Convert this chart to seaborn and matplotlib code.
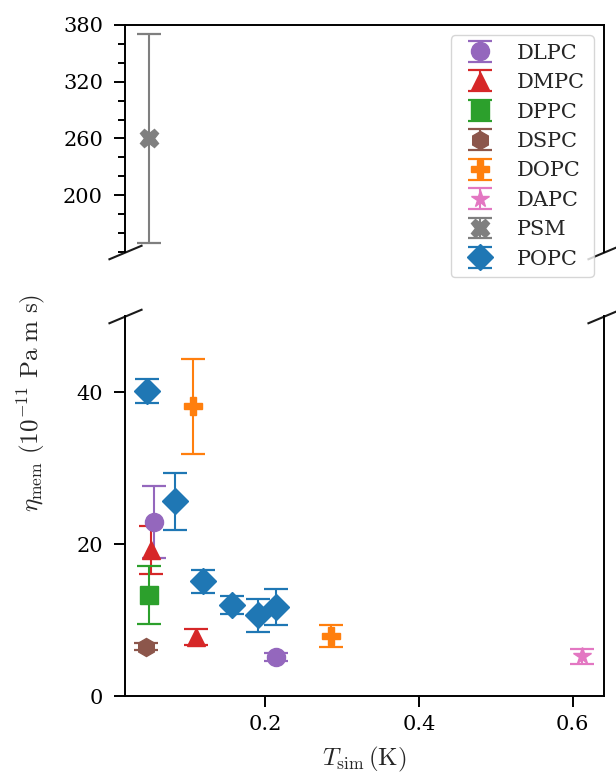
import matplotlib
matplotlib.use("Agg")
import matplotlib.pyplot as plt
from matplotlib.ticker import MultipleLocator, FixedLocator
import seaborn as sns

# Membrane viscosity vs. simulation temperature for each lipid
lipids = ["DLPC", "DMPC", "DPPC", "DSPC", "DOPC", "DAPC", "PSM", "POPC"]
markers = ["o", "^", "s", "h", "P", "*", "X", "D"]

tsim_dlpc = [0.055, 0.214]
eta_dlpc = [22.9, 5.1]
err_dlpc = [4.7, 0.5]

tsim_dmpc = [0.051, 0.109]
eta_dmpc = [19.2, 7.8]
err_dmpc = [3.15, 1.05]

tsim_dppc = [0.048]
eta_dppc = [13.3]
err_dppc = [3.85]

tsim_dspc = [0.045]
eta_dspc = [6.5]
err_dspc = [0.5]

tsim_dopc = [0.106, 0.286]
eta_dopc = [38.1, 7.9]
err_dopc = [6.2, 1.45]

tsim_dapc = [0.612]
eta_dapc = [5.2]
err_dapc = [1.05]

tsim_psm = [0.048]
eta_psm = [260.0]
err_psm = [110.0]

tsim_popc = [0.046, 0.082, 0.119, 0.156, 0.190, 0.214]
eta_popc = [40.1, 25.6, 15.1, 12.0, 10.6, 11.7]
err_popc = [1.6, 3.8, 1.5, 1.2, 2.2, 2.4]

top_ticks = [200, 260, 320, 380]
bottom_ticks = [0, 20, 40]
x_ticks = [0.2, 0.4, 0.6]

series = [
    (tsim_dlpc, eta_dlpc, err_dlpc),
    (tsim_dmpc, eta_dmpc, err_dmpc),
    (tsim_dppc, eta_dppc, err_dppc),
    (tsim_dspc, eta_dspc, err_dspc),
    (tsim_dopc, eta_dopc, err_dopc),
    (tsim_dapc, eta_dapc, err_dapc),
    (tsim_psm, eta_psm, err_psm),
    (tsim_popc, eta_popc, err_popc),
]

sns.set_theme(style="ticks")
tab = sns.color_palette("tab10")
colors = [tab[4], tab[3], tab[2], tab[5], tab[1], tab[6], tab[7], tab[0]]

plt.rcParams.update({
    "font.family": ["DejaVu Serif"],
    "mathtext.fontset": "cm",
    "axes.linewidth": 1.4,
    "xtick.major.size": 7.8,
    "ytick.major.size": 7.8,
    "ytick.minor.size": 5.0,
    "xtick.major.width": 1.4,
    "ytick.major.width": 1.4,
    "ytick.minor.width": 1.4,
    "xtick.major.pad": 6,
    "ytick.major.pad": 8,
    "xtick.labelsize": 15,
    "ytick.labelsize": 15,
    "axes.edgecolor": "black",
    "xtick.color": "black",
    "ytick.color": "black",
})

fig = plt.figure(figsize=(6.16, 7.83), dpi=100)
ax_top = fig.add_axes([0.2029, 0.6782, 0.7776, 0.2899])
ax_bot = fig.add_axes([0.2029, 0.1111, 0.7776, 0.4853])

for ax in (ax_top, ax_bot):
    for name, mk, col, (t, eta, err) in zip(lipids, markers, colors, series):
        ax.errorbar(t, eta, yerr=err, fmt=mk, color=col, ms=13,
                    capsize=8.4, elinewidth=1.5, capthick=1.6, label=name)
    ax.set_xlim(0.017, 0.641)

ax_top.set_ylim(140, 380)
ax_top.yaxis.set_major_locator(FixedLocator(top_ticks))
ax_top.yaxis.set_minor_locator(MultipleLocator(20))
ax_top.spines["bottom"].set_visible(False)
ax_top.tick_params(axis="x", bottom=False, labelbottom=False)

ax_bot.set_ylim(0, 50)
ax_bot.yaxis.set_major_locator(FixedLocator(bottom_ticks))
ax_bot.xaxis.set_major_locator(FixedLocator(x_ticks))
ax_bot.spines["top"].set_visible(False)

# diagonal break marks on the left and right of the gap
d = 0.42
brk = dict(marker=[(-1, -d), (1, d)], markersize=24.5, linestyle="none",
           color="k", mec="k", mew=1.5, clip_on=False)
ax_top.plot([0, 1], [0, 0], transform=ax_top.transAxes, **brk)
ax_bot.plot([0, 1], [1, 1], transform=ax_bot.transAxes, **brk)

ax_top.legend(loc="upper right", fontsize=15)

ax_bot.set_xlabel(r"$T_{\rm sim}\,({\rm K})$", fontsize=18, labelpad=8)
fig.text(0.050, 1 - 403 / 783, r"$\eta_{\rm mem}~(10^{-11}~{\rm Pa~m~s})$",
         rotation=90, ha="center", va="center", fontsize=18)

fig.savefig("out.png", dpi=100)
